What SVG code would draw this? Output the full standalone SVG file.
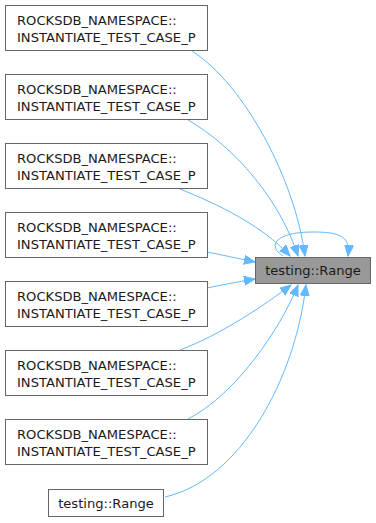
<svg xmlns="http://www.w3.org/2000/svg" width="376" height="523" viewBox="0 0 376 523">
  <style>
    .node rect { fill: #ffffff; stroke: #666666; stroke-width: 1; }
    .node.focus rect { fill: #999999; }
    .node text { font-family: "DejaVu Sans", "Liberation Sans", sans-serif; font-size: 13.1px; fill: #1a1a1a; }
    .edge path { fill: none; stroke: #63b8ff; stroke-width: 1; marker-end: url(#arrow); }
  </style>
  <defs>
    <marker id="arrow" markerUnits="userSpaceOnUse" markerWidth="12" markerHeight="10" refX="11" refY="4.5" orient="auto">
      <path d="M0,0 L11,4.5 L0,9 z" fill="#63b8ff" stroke="#63b8ff" stroke-width="1"/>
    </marker>
  </defs>
  <rect width="376" height="523" fill="#ffffff"/>

  <!-- connectors: callers into testing::Range -->
  <g id="edges" class="edge">
    <path d="M192,51 C245,85 295,180 305,256"/>
    <path d="M188,120 C235,147 280,200 298,256"/>
    <path d="M180,189 C215,203 262,225 290,256"/>
    <path d="M207,252 C222,255 236,258 255,262"/>
    <path d="M207,288 C222,285 236,282 255,279"/>
    <path d="M180,350 C220,335 265,305 291,285"/>
    <path d="M188,419 C235,395 280,330 298,285"/>
    <path d="M165,497 C240,480 295,380 306,285"/>
    <!-- self call -->
    <path d="M283,256 C267,246 275,232 313,232 C343,232 350,238 348,256"/>
  </g>

  <g id="caller1" class="node">
    <rect x="5.5" y="5.5" width="202" height="45"/>
    <text x="17" y="24.5">ROCKSDB_NAMESPACE::</text>
    <text x="17" y="42">INSTANTIATE_TEST_CASE_P</text>
  </g>
  <g id="caller2" class="node">
    <rect x="5.5" y="74.5" width="202" height="45"/>
    <text x="17" y="93.5">ROCKSDB_NAMESPACE::</text>
    <text x="17" y="111">INSTANTIATE_TEST_CASE_P</text>
  </g>
  <g id="caller3" class="node">
    <rect x="5.5" y="143.5" width="202" height="45"/>
    <text x="17" y="162.5">ROCKSDB_NAMESPACE::</text>
    <text x="17" y="180">INSTANTIATE_TEST_CASE_P</text>
  </g>
  <g id="caller4" class="node">
    <rect x="5.5" y="212.5" width="202" height="45"/>
    <text x="17" y="231.5">ROCKSDB_NAMESPACE::</text>
    <text x="17" y="249">INSTANTIATE_TEST_CASE_P</text>
  </g>
  <g id="caller5" class="node">
    <rect x="5.5" y="281.5" width="202" height="45"/>
    <text x="17" y="300.5">ROCKSDB_NAMESPACE::</text>
    <text x="17" y="318">INSTANTIATE_TEST_CASE_P</text>
  </g>
  <g id="caller6" class="node">
    <rect x="5.5" y="350.5" width="202" height="45"/>
    <text x="17" y="369.5">ROCKSDB_NAMESPACE::</text>
    <text x="17" y="387">INSTANTIATE_TEST_CASE_P</text>
  </g>
  <g id="caller7" class="node">
    <rect x="5.5" y="419.5" width="202" height="45"/>
    <text x="17" y="438.5">ROCKSDB_NAMESPACE::</text>
    <text x="17" y="456">INSTANTIATE_TEST_CASE_P</text>
  </g>
  <g id="caller8" class="node">
    <rect x="48.5" y="489.5" width="115" height="27"/>
    <text x="106" y="507.5" text-anchor="middle">testing::Range</text>
  </g>

  <g id="range" class="node focus">
    <rect x="255.5" y="257.5" width="115" height="26"/>
    <text x="313" y="275" text-anchor="middle">testing::Range</text>
  </g>
</svg>
